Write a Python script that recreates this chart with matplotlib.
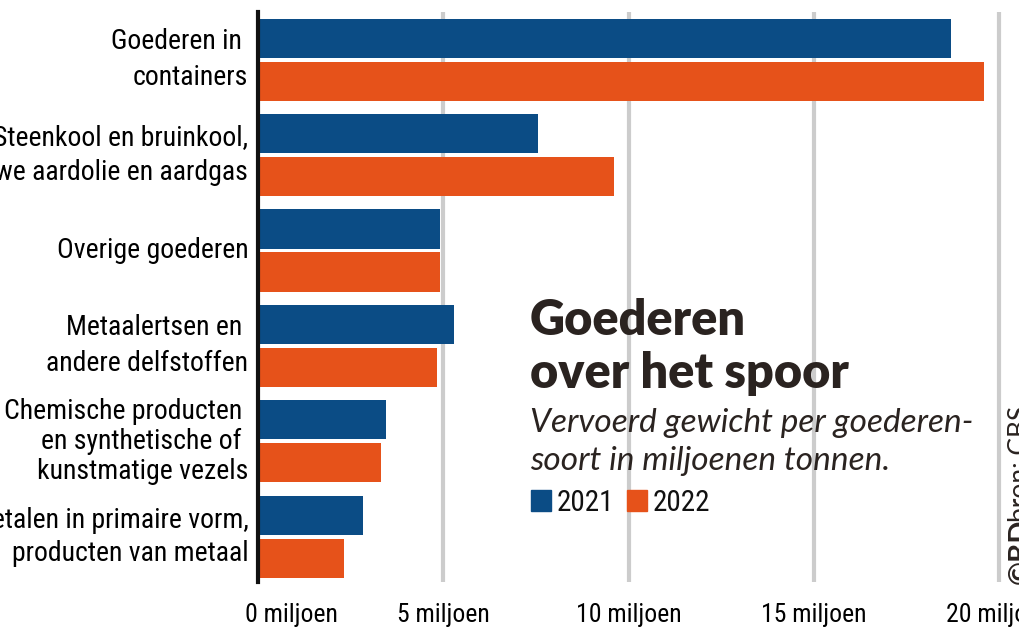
import matplotlib.pyplot as plt
from matplotlib import font_manager as fm
from matplotlib.transforms import ScaledTranslation
import numpy as np

# data (miljoen ton)
categories = ["Goederen in \ncontainers",
              "Steenkool en bruinkool,\nruwe aardolie en aardgas",
              "Overige goederen",
              "Metaalertsen en \nandere delfstoffen",
              "Chemische producten \nen synthetische of \nkunstmatige vezels",
              "Metalen in primaire vorm,\nproducten van metaal"]
v2021 = [18.7, 7.55, 4.9, 5.3, 3.45, 2.83]
v2022 = [19.6, 9.6, 4.9, 4.83, 3.33, 2.33]
years = ["2021", "2022"]
xticks = [0, 5, 10, 15, 20]
xticklabels = ["0 miljoen", "5 miljoen", "10 miljoen", "15 miljoen", "20 miljoen"]

blue = "#0b4c85"
orange = "#e6521a"
ink = "#2a2320"
# regelafstand per label, zoals in het origineel
spacing = [1.42, 1.38, 1.0, 1.43, 1.15, 1.28]


# smalle letter zoeken (condensed / narrow)
def find_narrow():
    prefs = ["roboto condensed", "liberation sans narrow", "open sans condensed",
             "noto sans condensed", "dejavu sans condensed", "dejavusanscondensed"]
    cands = []
    for f in fm.fontManager.ttflist:
        key = (f.name + " " + f.fname.split("/")[-1]).lower()
        if ("condensed" in key or "narrow" in key) and f.style == "normal" \
                and "bold" not in key and "light" not in key and "semi" not in key \
                and "extra" not in key and "thin" not in key and "medium" not in key \
                and "black" not in key and "oblique" not in key and "italic" not in key:
            cands.append(f)
    for p in prefs:
        for f in cands:
            key = (f.name + " " + f.fname.split("/")[-1]).lower().replace("-", " ")
            if p in key or p in key.replace(" ", ""):
                return fm.FontProperties(fname=f.fname)
    if cands:
        return fm.FontProperties(fname=cands[0].fname)
    return fm.FontProperties(family="DejaVu Sans", stretch="condensed")


narrow = find_narrow()

fig = plt.figure(figsize=(10.2, 6.37), dpi=100)
ax = fig.add_axes([258/1020, 1-582/637, 1-258/1020, 570/637])

y = np.arange(len(categories))
h = 0.41
off = 0.225
ax.barh(y - off, v2021, height=h, color=blue, zorder=2)
ax.barh(y + off, v2022, height=h, color=orange, zorder=2)

ax.set_xlim(0, (1020-258)/37.05)
ax.set_ylim(5.475, -0.50)

for t in xticks[1:]:
    ax.axvline(t, color="#cccccc", lw=3, zorder=1)
ax.set_xticks(xticks)
# "0 miljoen" staat links uitgelijnd, los getekend
ax.set_xticklabels([""] + xticklabels[1:])
for lab in ax.get_xticklabels():
    lab.set_fontproperties(narrow)
    lab.set_fontsize(18.5)
ax.tick_params(axis="x", length=0, pad=15)
t0 = fig.text(245/1020, 1-603/637, xticklabels[0], va="top", ha="left")
t0.set_fontproperties(narrow)
t0.set_fontsize(18.5)

ax.set_yticks(y)
ax.set_yticklabels(categories)
for lab, ls in zip(ax.get_yticklabels(), spacing):
    lab.set_fontproperties(narrow)
    lab.set_fontsize(20)
    lab.set_linespacing(ls)
    lab.set_va("center")
ax.tick_params(axis="y", length=0, pad=7)

for s in ["top", "right", "bottom"]:
    ax.spines[s].set_visible(False)
ax.spines["left"].set_linewidth(3)
ax.spines["left"].set_color("#111111")
ax.spines["left"].set_zorder(3)

# titel
fig.text(530/1020, 1-335/637, "Goederen", family="Lato", weight="heavy",
         fontsize=35, color=ink, va="baseline")
fig.text(530/1020, 1-388/637, "over het spoor", family="Lato", weight="heavy",
         fontsize=35, color=ink, va="baseline")
fig.text(530/1020, 1-432/637, "Vervoerd gewicht per goederen-", family="Lato",
         style="italic", fontsize=24, color=ink, va="baseline")
fig.text(530/1020, 1-470/637, "soort in miljoenen tonnen.", family="Lato",
         style="italic", fontsize=24, color=ink, va="baseline")

# legenda
for i, (yr, c) in enumerate(zip(years, [blue, orange])):
    x0 = (531 + i*96)/1020
    fig.patches.append(plt.Rectangle((x0, 1-511/637), 20/1020, 21/637, transform=fig.transFigure,
                                     color=c, figure=fig))
    t = fig.text(x0 + 26/1020, 1-511/637, yr, color="#111111", va="baseline")
    t.set_fontproperties(narrow)
    t.set_fontsize(21)

# bron
fig.text(1008/1020, 1-584/637, "©BD", rotation=90, family="Lato", weight="bold",
         fontsize=21, ha="left", va="bottom", color=ink)
fig.text(1008/1020, 1-522/637, "bron: CBS", rotation=90, family="Lato",
         fontsize=19, ha="left", va="bottom", color=ink)

fig.savefig("out.png", dpi=100)
